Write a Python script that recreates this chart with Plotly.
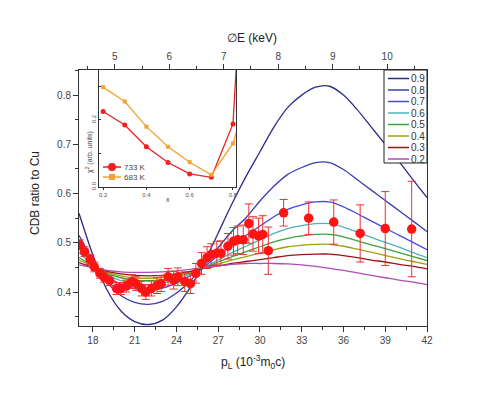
import plotly.graph_objects as go

# ---------------- data ----------------
p_grid = [17, 18, 19, 20, 21, 22, 23, 24, 25, 26, 27, 28, 29, 30,
          31, 32, 33, 34, 35, 36, 37, 38, 39, 40, 41, 42]

x_labels = ["0.9", "0.8", "0.7", "0.6", "0.5", "0.4", "0.3", "0.2"]

c09 = [0.560, 0.475, 0.405, 0.362, 0.340, 0.334, 0.343, 0.370, 0.410, 0.460, 0.520, 0.580, 0.635,
       0.685, 0.735, 0.775, 0.800, 0.816, 0.818, 0.800, 0.770, 0.735, 0.700, 0.665, 0.628, 0.592]
c08 = [0.515, 0.464, 0.420, 0.393, 0.379, 0.375, 0.381, 0.398, 0.423, 0.455, 0.490, 0.524, 0.551,
       0.585, 0.615, 0.639, 0.653, 0.663, 0.663, 0.649, 0.628, 0.607, 0.586, 0.565, 0.544, 0.523]
c07 = [0.495, 0.459, 0.432, 0.416, 0.407, 0.405, 0.408, 0.418, 0.433, 0.452, 0.474, 0.496, 0.515,
       0.534, 0.553, 0.568, 0.577, 0.583, 0.583, 0.573, 0.559, 0.544, 0.530, 0.515, 0.501, 0.486]
c06 = [0.480, 0.455, 0.435, 0.423, 0.417, 0.415, 0.418, 0.425, 0.436, 0.450, 0.465, 0.480, 0.493,
       0.506, 0.519, 0.529, 0.535, 0.539, 0.539, 0.532, 0.522, 0.511, 0.501, 0.491, 0.480, 0.470]
c05 = [0.470, 0.453, 0.438, 0.429, 0.424, 0.423, 0.425, 0.431, 0.439, 0.449, 0.461, 0.472, 0.482,
       0.492, 0.502, 0.509, 0.514, 0.517, 0.517, 0.512, 0.504, 0.496, 0.488, 0.480, 0.472, 0.464]
c04 = [0.465, 0.452, 0.440, 0.433, 0.429, 0.428, 0.430, 0.434, 0.441, 0.449, 0.457, 0.465, 0.472,
       0.479, 0.486, 0.492, 0.495, 0.497, 0.497, 0.493, 0.487, 0.481, 0.474, 0.468, 0.462, 0.456]
c03 = [0.460, 0.450, 0.442, 0.437, 0.434, 0.433, 0.434, 0.437, 0.442, 0.448, 0.453, 0.458, 0.462,
       0.466, 0.470, 0.474, 0.476, 0.477, 0.477, 0.474, 0.470, 0.465, 0.461, 0.456, 0.452, 0.447]
c02 = [0.455, 0.449, 0.444, 0.441, 0.440, 0.440, 0.441, 0.443, 0.446, 0.450, 0.453, 0.456, 0.458,
       0.458, 0.458, 0.457, 0.455, 0.452, 0.448, 0.444, 0.439, 0.434, 0.429, 0.424, 0.420, 0.415]
curves = [c09, c08, c07, c06, c05, c04, c03, c02]
curve_colors = ["#2c2c8e", "#3b3bb0", "#4646ee", "#4cb4b8", "#3aa33a",
                "#a0a010", "#9a1414", "#b04cb4"]

exp_p = [17.05, 17.4, 17.8, 18.1, 18.5, 18.8, 19.2, 19.7, 20.0, 20.4, 20.8, 21.1, 21.5, 21.8,
         22.2, 22.6, 22.9, 23.4, 23.8, 24.1, 24.6, 25.0, 25.4, 25.8, 26.2, 26.5, 26.9, 27.2,
         27.7, 28.1, 28.4, 28.8, 29.2, 29.5, 29.9, 30.2, 30.6, 31.7, 33.5, 35.3, 37.2, 39.0, 40.9]
exp_v = [0.496, 0.482, 0.466, 0.451, 0.438, 0.430, 0.423, 0.407, 0.407, 0.412, 0.421, 0.417, 0.407, 0.400,
         0.407, 0.413, 0.417, 0.431, 0.424, 0.431, 0.421, 0.417, 0.438, 0.458, 0.470, 0.476, 0.479, 0.479,
         0.493, 0.503, 0.506, 0.506, 0.539, 0.518, 0.514, 0.517, 0.484, 0.561, 0.550, 0.542, 0.519, 0.529, 0.528]
exp_err = [0.010, 0.010, 0.010, 0.010, 0.010, 0.010, 0.010, 0.012, 0.012, 0.012, 0.014, 0.014, 0.015, 0.015,
           0.015, 0.016, 0.016, 0.017, 0.018, 0.018, 0.020, 0.020, 0.020, 0.022, 0.022, 0.022, 0.024, 0.025,
           0.026, 0.028, 0.028, 0.030, 0.040, 0.035, 0.036, 0.038, 0.048, 0.027, 0.033, 0.045, 0.058, 0.075, 0.097]

# inset (chi^2 vs x)
inset_x = [0.2, 0.3, 0.4, 0.5, 0.6, 0.7, 0.8, 0.9]
chi_733 = [0.225, 0.185, 0.120, 0.073, 0.039, 0.029, 0.188, 1.30]
chi_683 = [0.298, 0.255, 0.180, 0.120, 0.074, 0.036, 0.130, 0.34]
inset_names = ["733 K", "683 K"]

x_ticks = [18, 21, 24, 27, 30, 33, 36, 39, 42]
y_ticks = [0.4, 0.5, 0.6, 0.7, 0.8]
e_ticks = [5, 6, 7, 8, 9, 10]
inset_xticks = [0.2, 0.4, 0.6, 0.8]
inset_yticks = [0.0, 0.2]

KEV_PER_UNIT = 0.2555  # Delta E (keV) = p_L * m0c^2 / 2
X_RANGE = [17, 42]
Y_RANGE = [0.331, 0.851]

# ---------------- figure ----------------
FONT = "Liberation Sans, Arial, sans-serif"
# page body has an 8px margin, so the figure is offset by 8px in the screenshot
OFF = 8
PX0, PX1, PY0, PY1 = 79, 427, 70, 326   # plot area in screenshot pixels
W, H = 469, 390
L, T = PX0 - OFF, PY0 - OFF
R = W - L - (PX1 - PX0)
B = H - T - (PY1 - PY0)


def px(X):
    return (X - PX0) / (PX1 - PX0)


def py(Y):
    return (PY1 - Y) / (PY1 - PY0)


fig = go.Figure()

for name, vals, col in zip(x_labels, curves, curve_colors):
    fig.add_trace(go.Scatter(x=p_grid, y=vals, mode="lines", name=name,
                             line=dict(color=col, width=1.3, shape="spline", smoothing=0.8),
                             showlegend=False, hoverinfo="skip"))

fig.add_trace(go.Scatter(x=exp_p, y=exp_v, mode="markers", showlegend=False,
                         marker=dict(color="#ff1414", size=9.5),
                         error_y=dict(type="data", array=exp_err, color="#f03030",
                                      thickness=1, width=4)))

# helper (invisible) trace for the top energy axis
fig.add_trace(go.Scatter(x=[p * KEV_PER_UNIT for p in p_grid], y=c09, xaxis="x2", yaxis="y",
                         mode="lines", line=dict(width=0), opacity=0,
                         showlegend=False, hoverinfo="skip"))

# inset
fig.add_trace(go.Scatter(x=inset_x, y=chi_733, xaxis="x3", yaxis="y3", mode="lines+markers",
                         line=dict(color="#ee2020", width=1.3),
                         marker=dict(color="#ee2020", size=5, symbol="circle"),
                         showlegend=False, cliponaxis=True))
fig.add_trace(go.Scatter(x=inset_x, y=chi_683, xaxis="x3", yaxis="y3", mode="lines+markers",
                         line=dict(color="#f5a030", width=1.3),
                         marker=dict(color="#f5a030", size=4, symbol="square"),
                         showlegend=False, cliponaxis=True))

axis_line = "#333333"
tickfont = dict(family=FONT, size=10, color="#444444")
small_tick = dict(family=FONT, size=6, color="#555555")

fig.update_layout(
    width=W, height=H,
    margin=dict(l=L, r=R, t=T, b=B),
    paper_bgcolor="white", plot_bgcolor="white",
    font=dict(family=FONT, color="#333333"),
    xaxis=dict(range=X_RANGE, tickvals=x_ticks, ticks="outside", ticklen=5, tickwidth=1,
               tickcolor=axis_line, showline=True, linecolor=axis_line, linewidth=1,
               mirror=True, showgrid=False, zeroline=False, tickfont=tickfont,
               minor=dict(dtick=1.5, tick0=18, ticks="outside", ticklen=3, tickcolor=axis_line)),
    yaxis=dict(range=Y_RANGE, tickvals=y_ticks, ticks="outside", ticklen=5, tickwidth=1,
               tickcolor=axis_line, showline=True, linecolor=axis_line, linewidth=1,
               mirror=True, showgrid=False, zeroline=False, tickfont=tickfont,
               tickformat=".1f",
               minor=dict(dtick=0.05, tick0=0.35, ticks="outside", ticklen=3, tickcolor=axis_line)),
    xaxis2=dict(overlaying="x", side="top", anchor="y",
                range=[X_RANGE[0] * KEV_PER_UNIT, X_RANGE[1] * KEV_PER_UNIT],
                tickvals=e_ticks, ticks="outside", ticklen=5, tickcolor=axis_line,
                showline=True, linecolor=axis_line, showgrid=False, zeroline=False,
                tickfont=tickfont,
                minor=dict(dtick=0.5, tick0=4.5, ticks="outside", ticklen=3, tickcolor=axis_line)),
    xaxis3=dict(domain=[px(99), px(236)], anchor="y3", range=[0.181, 0.814],
                tickvals=inset_xticks, ticks="outside", ticklen=2, tickcolor=axis_line,
                showline=True, linecolor=axis_line, mirror=True, showgrid=False, zeroline=False,
                tickfont=small_tick, tickformat=".1f"),
    yaxis3=dict(domain=[py(187), 1.0], anchor="x3", range=[0, 0.349],
                tickvals=inset_yticks, ticks="inside", ticklen=2,
                tickcolor=axis_line, showline=True, linecolor=axis_line, mirror=True,
                showgrid=False, zeroline=False, tickangle=-90, tickformat=".1f",
                tickfont=small_tick,
                minor=dict(dtick=0.1, tick0=0, ticks="inside", ticklen=2, tickcolor=axis_line)),
)

ann = []
shapes = []


def add_text(X, Y, text, size, color="#222222", angle=0, xanchor="center"):
    ann.append(dict(x=px(X), y=py(Y), xref="paper", yref="paper", text=text,
                    textangle=angle, showarrow=False, xanchor=xanchor, yanchor="middle",
                    font=dict(family=FONT, size=size, color=color)))


# axis titles
add_text(35, 193, "CDB ratio to Cu", 12, angle=-90)
add_text(253, 362, "p<sub>L</sub> (10<sup>-3</sup>m<sub>0</sub>c)", 12)
add_text(252, 38, "∅E (keV)", 12)
# inset titles
add_text(89, 152, "χ<sup>2</sup> (arb. units)", 7, color="#444444", angle=-90)
add_text(168, 199, "x", 7, color="#444444")

# main legend (drawn manually to match compact spacing)
shapes.append(dict(type="rect", xref="paper", yref="paper", x0=px(384), x1=1.0,
                   y0=py(163), y1=1.0, line=dict(color="#222222", width=1),
                   fillcolor="white", layer="above"))
for i, (name, col) in enumerate(zip(x_labels, curve_colors)):
    Y = 78.5 + i * 11.5
    shapes.append(dict(type="line", xref="paper", yref="paper", x0=px(388), x1=px(409),
                       y0=py(Y), y1=py(Y), line=dict(color=col, width=1.5), layer="above"))
    add_text(409, Y, name, 10, color="#333333", xanchor="left")

# inset legend
leg_cols = ["#ee2020", "#f5a030"]
for i, (name, col) in enumerate(zip(inset_names, leg_cols)):
    Y = 167 + i * 10
    shapes.append(dict(type="line", xref="paper", yref="paper", x0=px(103), x1=px(121),
                       y0=py(Y), y1=py(Y), line=dict(color=col, width=1.5), layer="above"))
    if i == 0:
        shapes.append(dict(type="circle", xref="paper", yref="paper", x0=px(108), x1=px(116),
                           y0=py(Y + 4), y1=py(Y - 4), line=dict(color=col, width=0),
                           fillcolor=col, layer="above"))
    else:
        shapes.append(dict(type="rect", xref="paper", yref="paper", x0=px(109), x1=px(115),
                           y0=py(Y + 3), y1=py(Y - 3), line=dict(color=col, width=0),
                           fillcolor=col, layer="above"))
    add_text(122, Y, name, 8, color="#444444", xanchor="left")

fig.update_layout(annotations=ann, shapes=shapes)

fig.write_html("out.html")
